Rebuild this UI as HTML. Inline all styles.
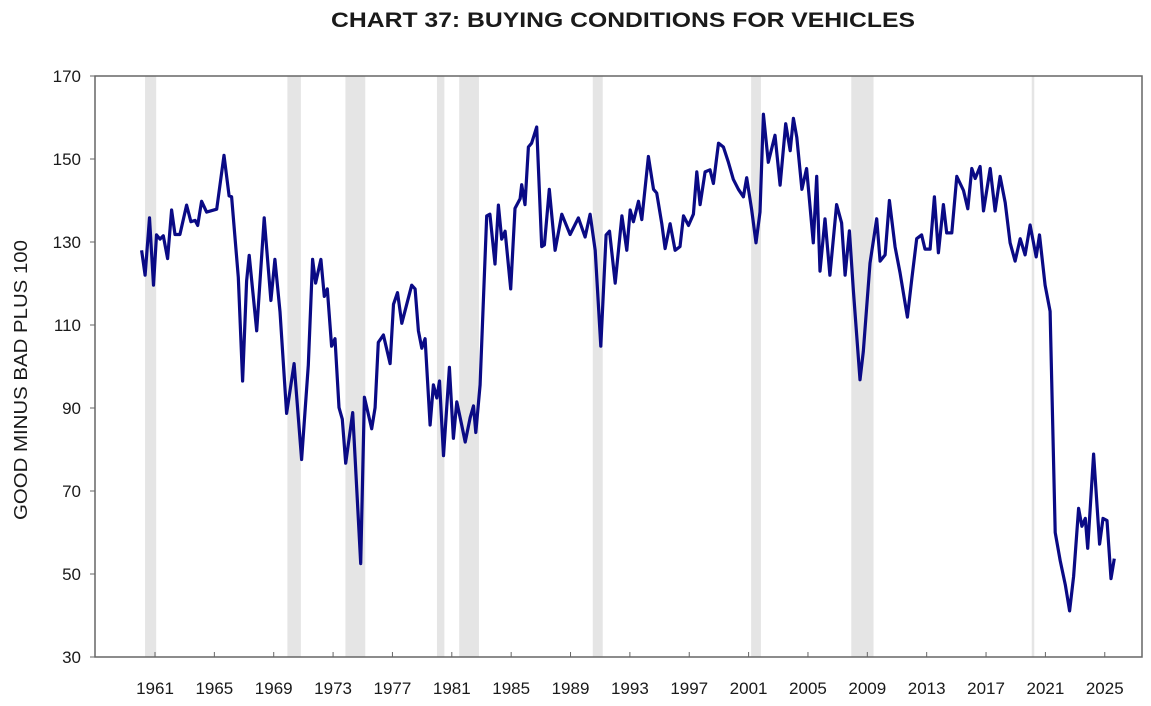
<!DOCTYPE html>
<html><head><meta charset="utf-8">
<style>
body{margin:0;background:#fff;}
svg text{font-family:"Liberation Sans",Arial,sans-serif;fill:#1a1a1a;}
</style></head>
<body>
<svg id="chart" width="1151" height="701" viewBox="0 0 1151 701" xmlns="http://www.w3.org/2000/svg">
<text x="623" y="27" text-anchor="middle" font-size="21" font-weight="bold" textLength="584" lengthAdjust="spacingAndGlyphs">CHART 37: BUYING CONDITIONS FOR VEHICLES</text>
<text transform="translate(27,380) rotate(-90)" text-anchor="middle" font-size="18" textLength="280" lengthAdjust="spacingAndGlyphs">GOOD MINUS BAD PLUS 100</text>
<g id="recessions"></g>
<g id="ticks"></g>
<polyline id="series" fill="none" stroke="#0a0a85" stroke-width="3.2" stroke-linejoin="round"/>
<rect x="95" y="76" width="1047" height="581" fill="none" stroke="#666" stroke-width="1.5"/>
</svg>
<script>
const yTicks=[30,50,70,90,110,130,150,170];
const xTickYears=[1961,1965,1969,1973,1977,1981,1985,1989,1993,1997,2001,2005,2009,2013,2017,2021,2025];
const recStart=[1960.33,1969.92,1973.83,1980.0,1981.5,1990.5,2001.17,2007.92,2020.08];
const recEnd=[1961.08,1970.83,1975.17,1980.5,1982.83,1991.17,2001.83,2009.42,2020.25];
const years=[1960.1,1960.33,1960.63,1960.9,1961.1,1961.34,1961.56,1961.85,1962.12,1962.35,1962.68,1963.13,1963.42,1963.7,1963.88,1964.14,1964.48,1965.16,1965.65,1965.99,1966.16,1966.61,1966.9,1967.17,1967.35,1967.85,1968.36,1968.81,1969.08,1969.42,1969.87,1970.37,1970.88,1971.33,1971.62,1971.82,1972.18,1972.41,1972.61,1972.9,1973.13,1973.4,1973.62,1973.85,1974.32,1974.86,1975.11,1975.6,1975.83,1976.05,1976.39,1976.84,1977.07,1977.34,1977.63,1978.3,1978.53,1978.75,1978.98,1979.2,1979.54,1979.76,1979.99,1980.17,1980.44,1980.84,1981.11,1981.34,1981.67,1981.9,1982.24,1982.46,1982.62,1982.91,1983.13,1983.35,1983.57,1983.91,1984.14,1984.36,1984.59,1984.97,1985.26,1985.6,1985.71,1985.93,1986.16,1986.38,1986.72,1987.06,1987.24,1987.57,1987.96,1988.41,1988.97,1989.53,1989.98,1990.32,1990.66,1991.04,1991.4,1991.63,1992.01,1992.46,1992.79,1993.02,1993.24,1993.58,1993.8,1994.25,1994.59,1994.81,1995.15,1995.37,1995.71,1996.05,1996.38,1996.61,1996.95,1997.28,1997.51,1997.73,1998.07,1998.4,1998.63,1998.97,1999.3,1999.64,1999.97,2000.31,2000.65,2000.87,2001.21,2001.5,2001.77,2002.0,2002.33,2002.78,2003.12,2003.5,2003.8,2004.02,2004.25,2004.59,2004.91,2005.36,2005.59,2005.81,2006.15,2006.48,2006.93,2007.27,2007.5,2007.79,2008.06,2008.51,2008.73,2009.18,2009.63,2009.86,2010.2,2010.49,2010.87,2011.21,2011.7,2012.0,2012.33,2012.66,2012.89,2013.23,2013.52,2013.79,2014.13,2014.35,2014.69,2015.03,2015.48,2015.77,2016.04,2016.27,2016.6,2016.83,2017.28,2017.61,2017.95,2018.29,2018.62,2018.96,2019.3,2019.63,2019.97,2020.38,2020.6,2020.98,2021.32,2021.66,2022.0,2022.34,2022.63,2022.9,2023.24,2023.46,2023.69,2023.85,2024.25,2024.65,2024.88,2025.15,2025.42,2025.64];
const values=[128,122,135.8,119.6,131.7,130.7,131.5,126,137.7,131.8,131.8,138.9,134.9,135.2,134,139.8,137.2,137.9,150.9,141.1,140.9,121.5,96.5,120.6,126.8,108.6,135.8,115.9,125.8,113.2,88.7,100.7,77.6,100.3,125.8,120.1,125.8,116.9,118.7,104.9,106.7,90.1,87.3,76.7,88.9,52.5,92.6,85,90.1,105.8,107.6,100.7,115,117.8,110.4,119.6,118.7,108.6,104.4,106.7,85.9,95.6,92.4,96.5,78.5,99.8,82.7,91.5,85.9,81.8,87.7,90.5,84.1,95.6,116,136.3,136.7,124.7,138.9,130.7,132.6,118.7,138.1,140.4,143.8,139,152.9,153.8,157.7,128.9,129.3,142.7,128,136.7,131.8,135.8,131.2,136.7,128,104.9,131.7,132.6,120.1,136.3,128,137.7,134.9,139.8,135.4,150.6,142.7,141.8,134.4,128.4,134.4,128,128.9,136.3,134,136.7,146.9,139,146.9,147.4,144.1,153.8,152.9,149.2,145.1,142.7,140.9,145.5,137.7,129.8,137.2,160.8,149.2,155.7,143.7,158.5,152,159.8,155.2,142.7,147.7,129.8,145.8,123,135.6,122,139,134.6,122,132.7,118.2,96.8,103.6,124.9,135.6,125.4,126.9,140,128.8,122.5,111.9,121.1,130.8,131.7,128.3,128.3,140.9,127.4,139,132.2,132.2,145.8,142.4,138,147.7,145.3,148.2,137.5,147.7,137.5,145.8,139.5,129.8,125.4,130.8,126.9,134.1,126.4,131.7,119.6,113.3,60,53.2,47.4,41.1,49.4,65.8,61.5,63.4,56.2,78.9,57.2,63.4,62.9,48.9,53.7];

const NS='http://www.w3.org/2000/svg';
const X0=95,X1=1142,Y0=76,Y1=657;
function xScale(yr){return 155+(yr-1961)*14.84;}
function yScale(v){return Y1-(v-30)*(Y1-Y0)/140;}
const rg=document.getElementById('recessions');
for(let i=0;i<recStart.length;i++){
  const r=document.createElementNS(NS,'rect');
  
  
  const a=xScale(recStart[i]),b=xScale(recEnd[i]);
  r.setAttribute('x',a);r.setAttribute('y',Y0);
  r.setAttribute('width',Math.max(2,b-a));r.setAttribute('height',Y1-Y0);
  r.setAttribute('fill','#e5e5e5');
  rg.appendChild(r);
}
const tg=document.getElementById('ticks');
yTicks.forEach(v=>{
  const t=document.createElementNS(NS,'text');
  
  
  t.setAttribute('x',81);t.setAttribute('y',yScale(v)+6);
  t.setAttribute('text-anchor','end');t.setAttribute('font-size','17');
  t.textContent=v;tg.appendChild(t);
  const l=document.createElementNS(NS,'line');
  
  
  l.setAttribute('x1',X0-5);l.setAttribute('x2',X0);
  l.setAttribute('y1',yScale(v));l.setAttribute('y2',yScale(v));
  l.setAttribute('stroke','#666');tg.appendChild(l);
});
xTickYears.forEach(yr=>{
  const x=xScale(yr);
  const l=document.createElementNS(NS,'line');
  
  
  l.setAttribute('x1',x);l.setAttribute('x2',x);
  l.setAttribute('y1',Y1-5);l.setAttribute('y2',Y1);
  l.setAttribute('stroke','#666');tg.appendChild(l);
  const t=document.createElementNS(NS,'text');
  
  
  t.setAttribute('x',x);t.setAttribute('y',694);
  t.setAttribute('text-anchor','middle');t.setAttribute('font-size','17');
  t.textContent=yr;tg.appendChild(t);
});
document.getElementById('series').setAttribute('points',years.map((y,i)=>xScale(y).toFixed(1)+','+yScale(values[i]).toFixed(1)).join(' '));
</script>
</body></html>
